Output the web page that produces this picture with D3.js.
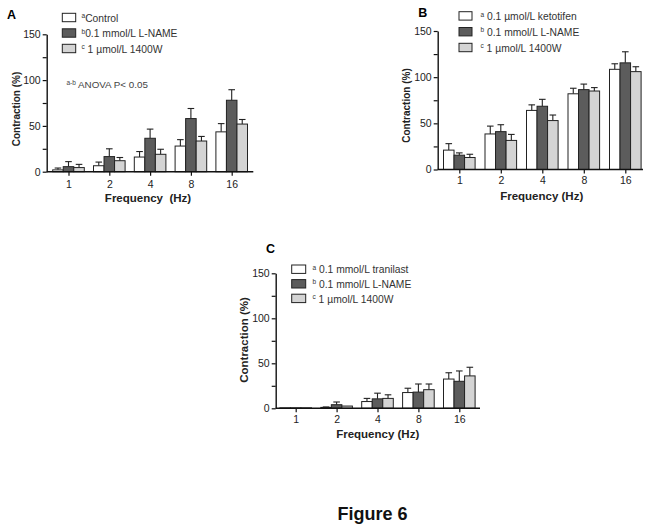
<!DOCTYPE html>
<html><head><meta charset="utf-8">
<script src="https://cdn.jsdelivr.net/npm/d3@7"></script>
<style>
html,body{margin:0;padding:0;background:#fff;}
svg{display:block;font-family:"Liberation Sans",Arial,sans-serif;}
</style></head>
<body>
<svg id="chart" width="653" height="531"></svg>
<script>
// ---- data ----
const freqs = ["1","2","4","8","16"];
const yTicks = [0,25,50,75,100,125,150];

// Panel A
const A_control = [2, 6.5, 16, 28, 43.5];
const A_controlErr = [2, 4, 6, 7, 9];
const A_lname = [5.5, 16.5, 36.5, 58, 78];
const A_lnameErr = [5.5, 8.5, 10, 11, 11.5];
const A_1400w = [4.5, 12, 19, 33.5, 52];
const A_1400wErr = [3.5, 3.5, 5.5, 5, 5];
const A_legend = [["a","Control"],["b","0.1 mmol/L L-NAME"],["c"," 1 µmol/L 1400W"]];

// Panel B
const B_ketotifen = [21, 38.5, 64, 82, 108.5];
const B_ketotifenErr = [7, 8.5, 6, 6, 6];
const B_lname = [15.5, 41, 68.5, 86.5, 115.5];
const B_lnameErr = [2.5, 7.5, 7.5, 6, 12];
const B_1400w = [13, 31.5, 53, 85, 106];
const B_1400wErr = [3.5, 6.5, 6, 3.7, 5.3];
const B_legend = [["a"," 0.1 µmol/L ketotifen"],["b"," 0.1 mmol/L L-NAME"],["c"," 1 µmol/L 1400W"]];

// Panel C
const C_tranilast = [0.5, 1, 7.5, 17.5, 32.5];
const C_tranilastErr = [0, 0.5, 3.5, 4.8, 7];
const C_lname = [0.5, 4, 10.5, 18, 30];
const C_lnameErr = [0, 3, 6.3, 9, 11.5];
const C_1400w = [0.5, 2.5, 11, 20.7, 36];
const C_1400wErr = [0, 0, 4, 6.3, 9.6];
const C_legend = [["a"," 0.1 mmol/L tranilast"],["b"," 0.1 mmol/L L-NAME"],["c"," 1 µmol/L 1400W"]];

const seriesKeys = ["s1","s2","s3"];
const fills = ["#ffffff","#5c5c5c","#d4d4d4"];

const svg = d3.select("#chart");

function panel(cfg){
  const g = svg.append("g");
  const y = d3.scaleLinear().domain([0,150]).range([cfg.y0, cfg.yTop]);
  const x = d3.scalePoint().domain(freqs).range([cfg.c0, cfg.c1]);
  const xs = d3.scaleBand().domain(seriesKeys).range([-15.8, 15.8]).padding(0);
  const bw = xs.bandwidth();

  // bars
  cfg.series.forEach((s, si) => {
    const gs = g.append("g");
    freqs.forEach((f, i) => {
      const v = s.vals[i], e = s.errs[i];
      const bx = x(f) + xs(seriesKeys[si]);
      if (e > 0) {
        const cx = bx + bw/2;
        gs.append("line").attr("x1",cx).attr("x2",cx)
          .attr("y1",y(v)).attr("y2",y(v+e))
          .attr("stroke","#222").attr("stroke-width",1.1);
        gs.append("line").attr("x1",cx-3.3).attr("x2",cx+3.3)
          .attr("y1",y(v+e)).attr("y2",y(v+e))
          .attr("stroke","#222").attr("stroke-width",1.1);
      }
      gs.append("rect").attr("x",bx).attr("y",y(v))
        .attr("width",bw).attr("height",y(0)-y(v))
        .attr("fill",fills[si]).attr("stroke","#222").attr("stroke-width",1);
    });
  });

  // y axis
  const ya = g.append("g").attr("transform",`translate(${cfg.ax},0)`)
    .call(d3.axisLeft(y).tickValues(yTicks)
      .tickFormat(d => d % 50 === 0 ? d : "")
      .tickSize(4).tickSizeOuter(0).tickPadding(2));
  ya.select(".domain").attr("stroke","#111").attr("stroke-width",1.4);
  ya.selectAll(".tick line").attr("stroke","#111").attr("stroke-width",1.2);
  ya.selectAll(".tick text").attr("font-size",10.5).attr("fill","#222")
    .attr("font-family","Liberation Sans, Arial, sans-serif");

  // x axis
  const xa = g.append("g").attr("transform",`translate(0,${cfg.y0})`)
    .call(d3.axisBottom(x).tickSize(4).tickPadding(cfg.xPad));
  xa.select(".domain").remove();
  xa.append("line").attr("x1",cfg.ax).attr("x2",cfg.axEnd).attr("y1",0).attr("y2",0)
    .attr("stroke","#111").attr("stroke-width",1.4);
  xa.selectAll(".tick line").attr("stroke","#111").attr("stroke-width",1.2);
  xa.selectAll(".tick text").attr("font-size",10.5).attr("fill","#222")
    .attr("font-family","Liberation Sans, Arial, sans-serif");

  // axis titles
  g.append("text").attr("transform",`translate(${cfg.ylx},${cfg.yly}) rotate(-90)`)
    .attr("text-anchor","middle").attr("dy","0.35em")
    .attr("font-size",cfg.ylSize).attr("font-weight","bold").attr("fill","#222")
    .text("Contraction (%)");
  g.append("text").attr("x",cfg.xlx).attr("y",cfg.xly)
    .attr("text-anchor","middle").attr("font-size",11.5).attr("font-weight","bold").attr("fill","#222")
    .text(cfg.xlabel);

  // panel letter
  g.append("text").attr("x",cfg.lx).attr("y",cfg.ly)
    .attr("font-size",12.5).attr("font-weight","bold").attr("fill","#000").text(cfg.letter);

  // legend
  cfg.legend.forEach((L, i) => {
    const ty = cfg.legTop + i*cfg.legStep;
    g.append("rect").attr("x",cfg.legX).attr("y",ty).attr("width",cfg.legW).attr("height",8.4)
      .attr("fill",fills[i]).attr("stroke","#222").attr("stroke-width",1);
    const t = g.append("text").attr("x",cfg.supX).attr("y",ty+8.3)
      .attr("font-size",10.3).attr("fill","#333");
    t.append("tspan").attr("font-size",6.5).attr("dy",-3.5).text(L[0]);
    t.append("tspan").attr("dy",3.5).text(L[1]);
  });
  return g;
}

panel({
  letter:"A", lx:7, ly:18.5,
  ax:46.7, axEnd:253.3, y0:171.7, yTop:34.3, c0:68.5, c1:231.7, xPad:5,
  series:[{vals:A_control,errs:A_controlErr},{vals:A_lname,errs:A_lnameErr},{vals:A_1400w,errs:A_1400wErr}],
  ylx:16.7, yly:109, ylSize:10, xlx:148, xly:202, xlabel:"Frequency\u00a0\u00a0(Hz)",
  legend:A_legend, legX:62.3, legW:13.4, legTop:13.3, legStep:15.5, supX:81.5
});
// ANOVA annotation (panel A)
const ann = svg.append("text").attr("x",66.5).attr("y",88.3).attr("font-size",9.8).attr("fill","#444");
ann.append("tspan").attr("font-size",6.5).attr("dy",-3.5).text("a-b");
ann.append("tspan").attr("dy",3.5).text(" ANOVA P< 0.05");

panel({
  letter:"B", lx:418.3, ly:16.7,
  ax:437.7, axEnd:643, y0:169.5, yTop:31, c0:459.3, c1:625.3, xPad:3,
  series:[{vals:B_ketotifen,errs:B_ketotifenErr},{vals:B_lname,errs:B_lnameErr},{vals:B_1400w,errs:B_1400wErr}],
  ylx:406, yly:105.5, ylSize:10, xlx:541.7, xly:200, xlabel:"Frequency (Hz)",
  legend:B_legend, legX:459, legW:13, legTop:11.7, legStep:15.8, supX:480.5
});

panel({
  letter:"C", lx:266, ly:252.7,
  ax:275.7, axEnd:480, y0:408.3, yTop:273.3, c0:295.7, c1:459.3, xPad:3,
  series:[{vals:C_tranilast,errs:C_tranilastErr},{vals:C_lname,errs:C_lnameErr},{vals:C_1400w,errs:C_1400wErr}],
  ylx:244, yly:340, ylSize:11.5, xlx:377.7, xly:438.3, xlabel:"Frequency (Hz)",
  legend:C_legend, legX:291.7, legW:14, legTop:265, legStep:14.6, supX:312.5
});

svg.append("text").attr("x",372.5).attr("y",520).attr("text-anchor","middle")
  .attr("font-size",18).attr("font-weight","bold").attr("fill","#111").text("Figure 6");
</script>
</body></html>
